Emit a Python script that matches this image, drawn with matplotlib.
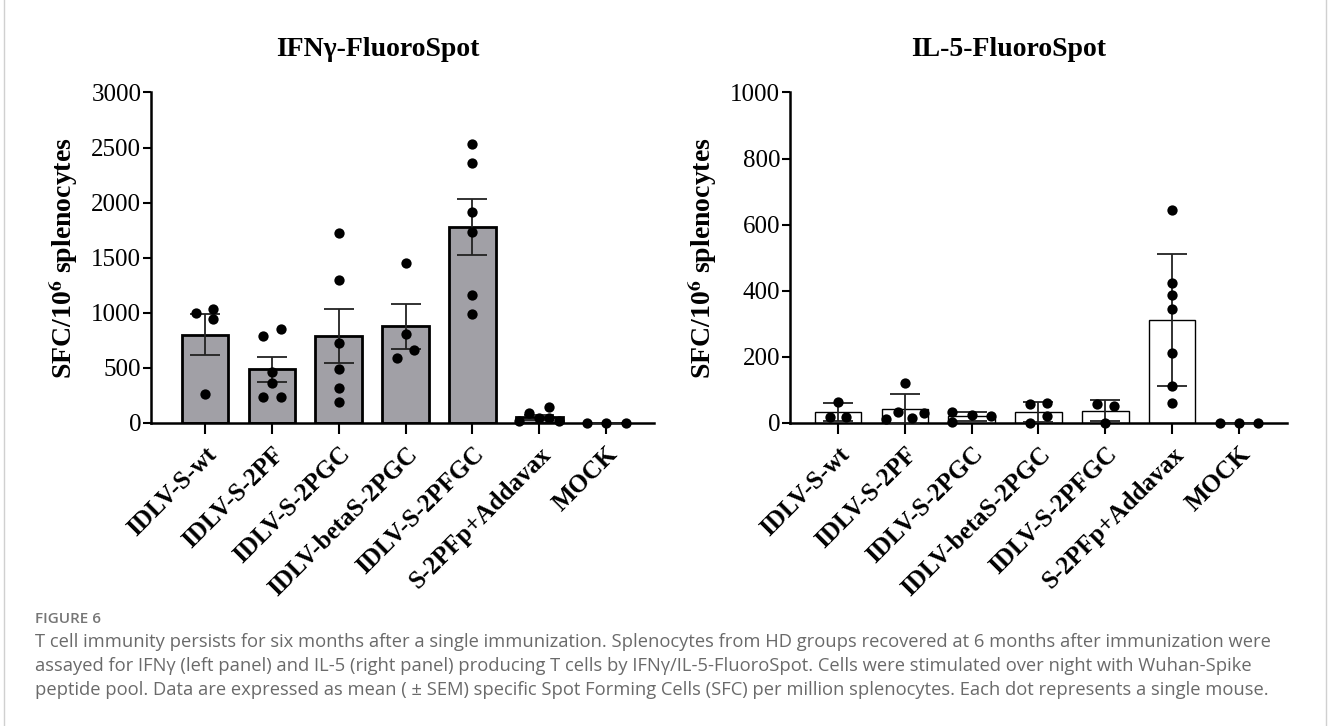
import matplotlib
matplotlib.use("Agg")
import matplotlib.pyplot as plt
from matplotlib.lines import Line2D

plt.rcParams['font.family'] = ['Liberation Serif', 'DejaVu Serif']
plt.rcParams['mathtext.fontset'] = 'stix'

groups = ['IDLV-S-wt', 'IDLV-S-2PF', 'IDLV-S-2PGC', 'IDLV-betaS-2PGC',
          'IDLV-S-2PFGC', 'S-2PFp+Addavax', 'MOCK']

# IFNg panel: mean +/- SEM and single mice
ifn_mean = [803, 486, 788, 876, 1776, 50, 0]
ifn_err = [185, 112, 245, 200, 254, 20, 0]
ifn_pts = [[997, 1033, 943, 263],
           [788, 857, 462, 362, 232, 232],
           [1722, 1301, 725, 489, 320, 190],
           [1456, 812, 664, 589],
           [2534, 2362, 1915, 1734, 1160, 988],
           [15, 90, 45, 145, 45, 15],
           [0, 0, 0]]
ifn_jit = [[-0.13, 0.12, 0.12, 0],
           [-0.13, 0.13, 0, 0, -0.13, 0.13],
           [0, 0, 0, 0, 0, 0],
           [0, 0, 0.13, -0.13],
           [0, 0, 0, 0, 0, 0],
           [-0.3, -0.15, 0, 0.15, 0.15, 0.3],
           [-0.29, 0, 0.3]]

# IL-5 panel
il5_mean = [33, 42, 20, 33, 37, 312, 0]
il5_err = [27, 45, 14, 30, 31, 200, 0]
il5_pts = [[63, 19, 19],
           [11, 32, 14, 31, 122],
           [34, 3, 23, 20],
           [57, 60, 21, 0],
           [58, 52, 0],
           [645, 423, 387, 344, 213, 113, 61],
           [0, 0, 0]]
il5_jit = [[0, -0.12, 0.12],
           [-0.29, -0.10, 0.10, 0.29, 0],
           [-0.29, -0.29, 0, 0.29],
           [-0.13, 0.13, 0.13, -0.13],
           [-0.13, 0.13, 0],
           [0, 0, 0, 0, 0, 0, 0],
           [-0.28, 0, 0.28]]

fig = plt.figure(figsize=(13.28, 7.26), dpi=100)
ax1 = fig.add_axes([0.1137, 0.4174, 0.3788, 0.4552])
ax2 = fig.add_axes([0.5949, 0.4174, 0.3742, 0.4552])


def panel(ax, mean, err, pts, jit, fill, elw, ymax, step, xlo):
    x = list(range(len(groups)))
    ax.bar(x, mean, width=0.7, color=fill, edgecolor='black', linewidth=elw, zorder=2)
    ax.errorbar(x, mean, yerr=err, fmt='none', ecolor='#222222', elinewidth=1.3,
                capsize=11, capthick=1.3, zorder=3)
    for i in x:
        xs = [i + d for d in jit[i]]
        ax.scatter(xs, pts[i], s=55, color='black', zorder=4, clip_on=False,
                   linewidths=0)
    ax.set_xlim(xlo, len(groups) - 1 + 0.72)
    ax.set_ylim(0, ymax)
    ax.set_yticks(range(0, ymax + 1, step))
    ax.set_xticks(x)
    ax.set_xticklabels(groups, rotation=45, ha='right', rotation_mode='anchor',
                       fontweight='bold', fontsize=18)
    ax.tick_params(axis='y', labelsize=18, width=1.5, length=6, pad=1)
    ax.tick_params(axis='x', width=1.5, length=8, pad=6)
    for s in ['top', 'right']:
        ax.spines[s].set_visible(False)
    for s in ['left', 'bottom']:
        ax.spines[s].set_linewidth(1.8)
    ax.set_ylabel(r'SFC/10$^{\mathbf{6}}$ splenocytes', fontsize=20,
                  fontweight='bold', labelpad=8)


panel(ax1, ifn_mean, ifn_err, ifn_pts, ifn_jit, '#a1a0a6', 2.0, 3000, 500, -0.81)
panel(ax2, il5_mean, il5_err, il5_pts, il5_jit, 'white', 1.0, 1000, 200, -0.72)

fig.text(378 / 1328, 1 - 50 / 726, 'IFNγ-FluoroSpot', fontsize=20, fontweight='bold',
         ha='center', va='center')
fig.text(1009 / 1328, 1 - 50 / 726, 'IL-5-FluoroSpot', fontsize=20, fontweight='bold',
         ha='center', va='center')

# caption
cap = ['T cell immunity persists for six months after a single immunization. Splenocytes from HD groups recovered at 6 months after immunization were',
       'assayed for IFNγ (left panel) and IL-5 (right panel) producing T cells by IFNγ/IL-5-FluoroSpot. Cells were stimulated over night with Wuhan-Spike',
       'peptide pool. Data are expressed as mean ( \u00b1 SEM) specific Spot Forming Cells (SFC) per million splenocytes. Each dot represents a single mouse.']
fig.text(35 / 1328, 1 - 619 / 726, 'FIGURE 6', fontsize=11, fontweight='semibold',
         color='#767676', family=['Open Sans', 'DejaVu Sans'], va='center')
for k, line in enumerate(cap):
    fig.text(35 / 1328, 1 - (642 + 24 * k) / 726, line, fontsize=13.25, color='#6a6a6a',
             family=['Open Sans', 'DejaVu Sans'], va='center')

for xb in [4, 1326]:
    fig.add_artist(Line2D([xb / 1328, xb / 1328], [0, 1], color='#d0d0d0', linewidth=1,
                          transform=fig.transFigure))

fig.savefig('out.png', dpi=100)
